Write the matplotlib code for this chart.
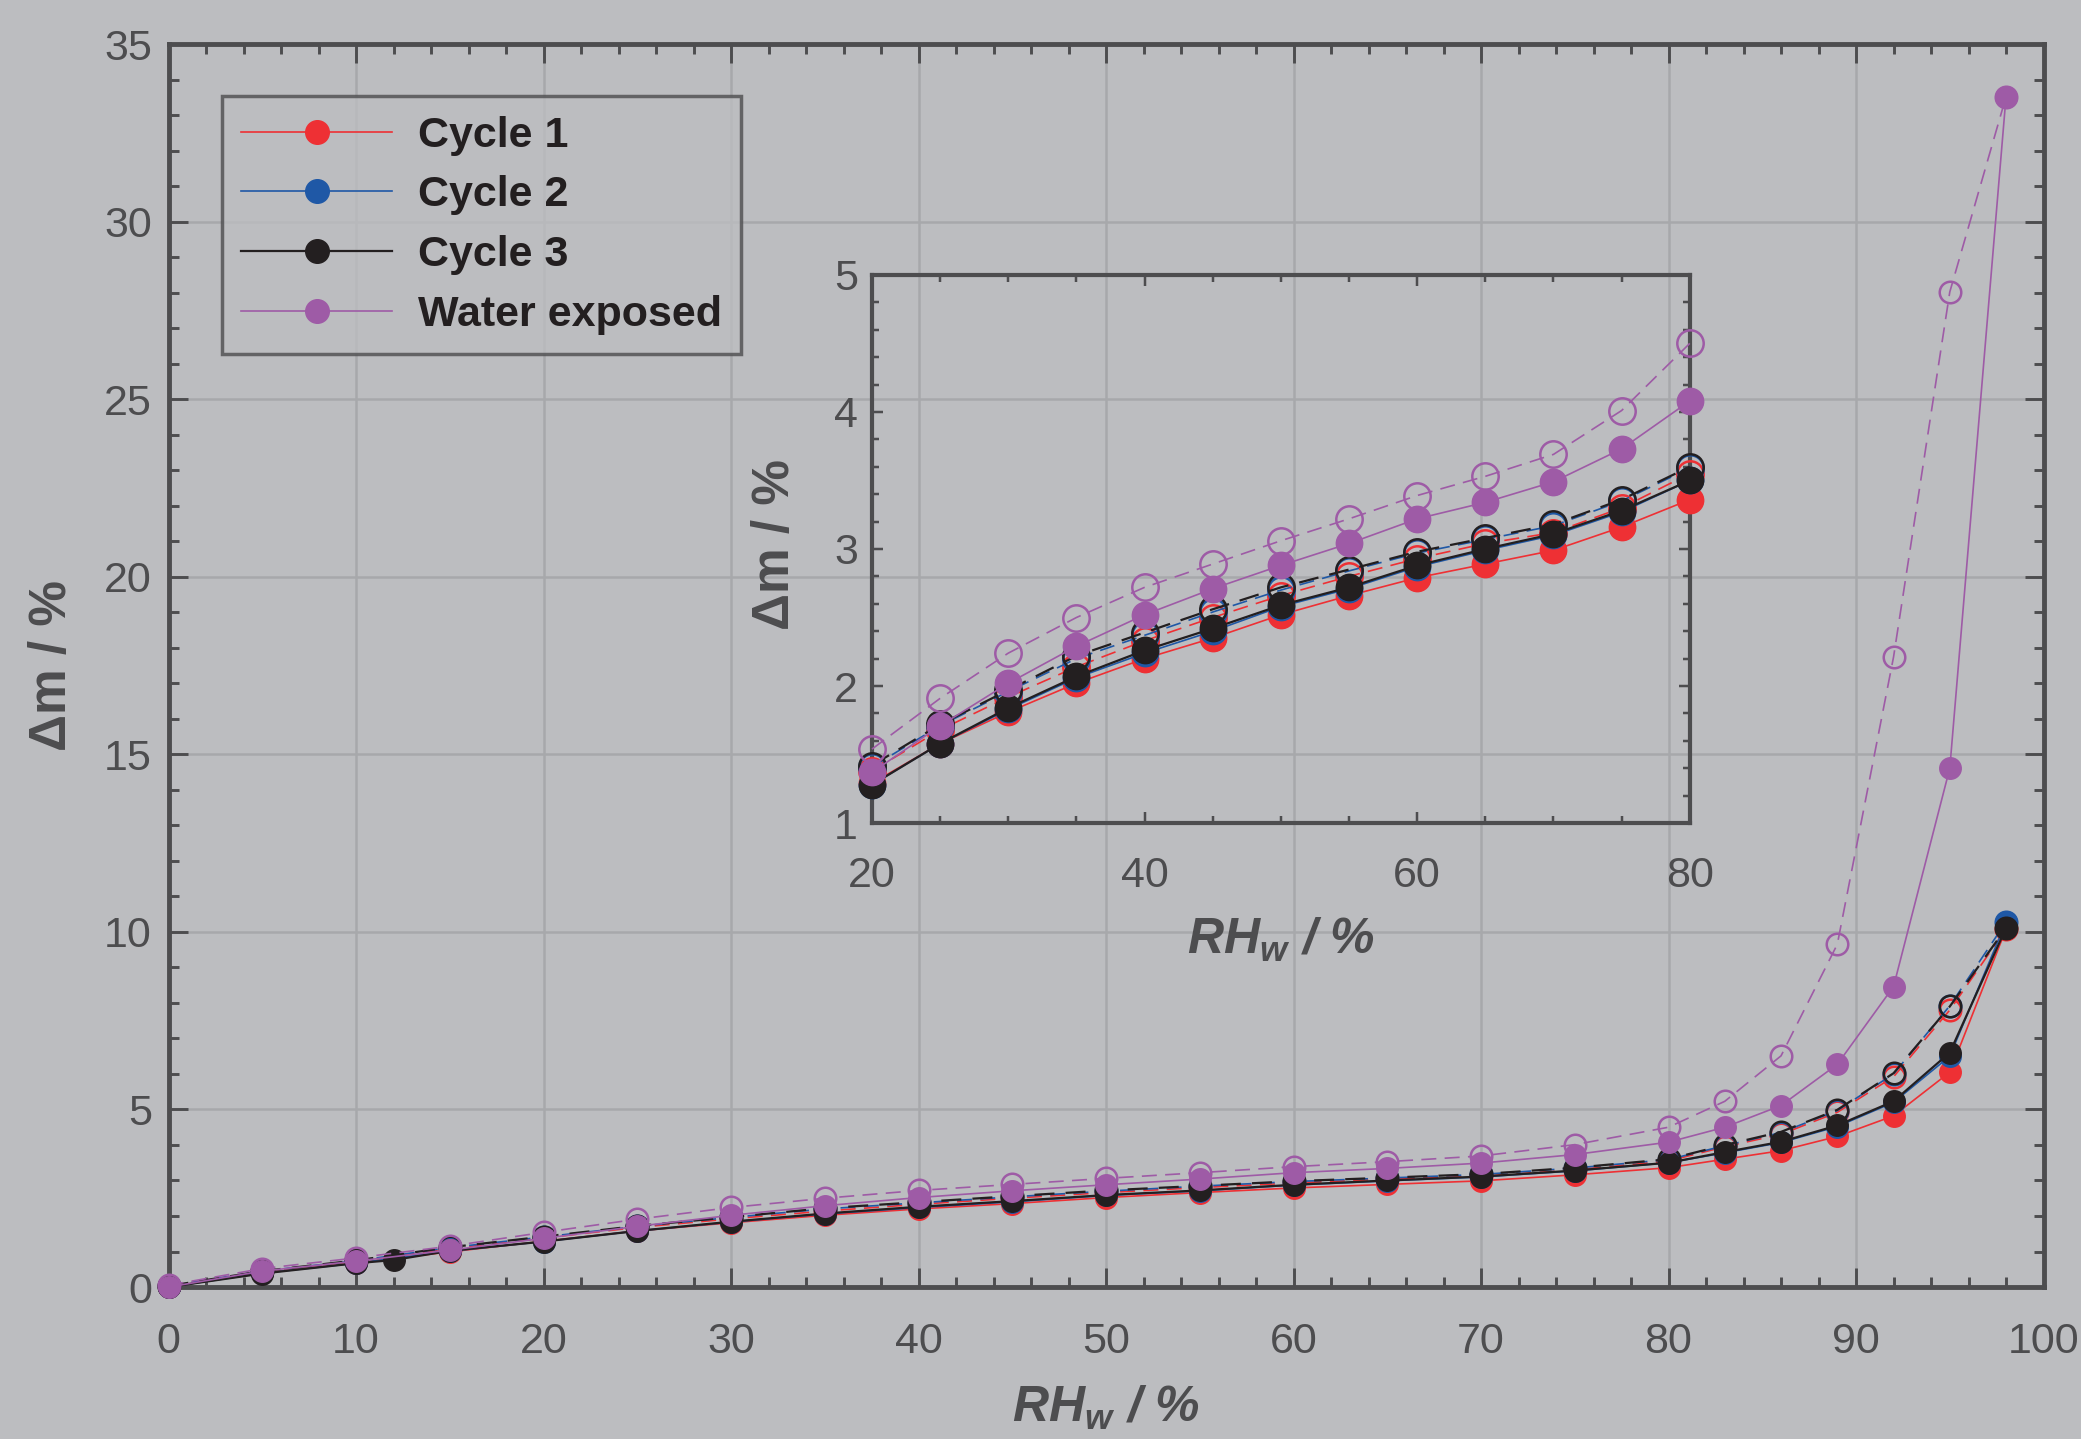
import matplotlib
matplotlib.use('Agg')
import matplotlib.pyplot as plt
from matplotlib.ticker import MultipleLocator

plt.rcParams['font.family'] = ['Liberation Sans', 'DejaVu Sans']
plt.rcParams['mathtext.fontset'] = 'custom'
plt.rcParams['mathtext.rm'] = 'Liberation Sans:italic:bold'
plt.rcParams['mathtext.it'] = 'Liberation Sans:italic:bold'
plt.rcParams['mathtext.default'] = 'rm'

# relative humidity steps
rh = [0, 5, 10, 15, 20, 25, 30, 35, 40, 45, 50, 55, 60, 65, 70, 75, 80, 83, 86, 89, 92, 95, 98]
rh_c3 = [0, 5, 10, 12, 15, 20, 25, 30, 35, 40, 45, 50, 55, 60, 65, 70, 75, 80, 83, 86, 89, 92, 95, 98]

# mass change, sorption (filled) and desorption (open)
c1_sorp = [0.0, 0.40, 0.68, 0.99, 1.29, 1.58, 1.81, 2.02, 2.20, 2.35, 2.52, 2.66, 2.79, 2.89, 2.99, 3.16, 3.36,
           3.60, 3.84, 4.24, 4.82, 6.05, 10.08]
c1_desorp = [0.02, 0.44, 0.72, 1.08, 1.38, 1.68, 1.92, 2.14, 2.33, 2.50, 2.66, 2.80, 2.93, 3.04, 3.12, 3.30, 3.55,
             3.95, 4.30, 4.92, 5.92, 7.80, 10.08]
c2_sorp = [0.0, 0.39, 0.67, 1.01, 1.28, 1.58, 1.83, 2.06, 2.24, 2.40, 2.58, 2.71, 2.87, 2.99, 3.10, 3.27, 3.50,
           3.78, 4.07, 4.52, 5.20, 6.50, 10.28]
c2_desorp = [0.03, 0.45, 0.74, 1.11, 1.41, 1.71, 1.96, 2.20, 2.37, 2.54, 2.70, 2.84, 2.97, 3.07, 3.17, 3.35, 3.59,
             3.98, 4.35, 4.97, 6.00, 7.92, 10.28]
c3_sorp = [0.0, 0.38, 0.67, 0.76, 1.02, 1.28, 1.58, 1.84, 2.07, 2.26, 2.42, 2.59, 2.72, 2.88, 3.00, 3.11, 3.28,
           3.50, 3.80, 4.09, 4.55, 5.23, 6.60, 10.11]
c3_desorp = [0.03, 0.45, 0.75, 1.12, 1.42, 1.72, 1.97, 2.22, 2.39, 2.56, 2.72, 2.85, 2.98, 3.08, 3.18, 3.36, 3.60,
             4.00, 4.37, 4.99, 6.02, 7.90, 10.11]
water_sorp = [0.0, 0.45, 0.73, 1.04, 1.37, 1.71, 2.02, 2.29, 2.52, 2.71, 2.88, 3.04, 3.22, 3.34, 3.49, 3.73, 4.08,
              4.50, 5.11, 6.27, 8.46, 14.61, 33.52]
water_desorp = [0.05, 0.52, 0.82, 1.15, 1.54, 1.91, 2.24, 2.50, 2.72, 2.89, 3.06, 3.22, 3.39, 3.53, 3.69, 4.01, 4.50,
                5.23, 6.51, 9.65, 17.74, 28.02, 33.52]

labels = ['Cycle 1', 'Cycle 2', 'Cycle 3', 'Water exposed']
colors = ['#ee3034', '#1f58a6', '#231f20', '#9e5ba6']
BG = '#bcbdc0'
SPINE = '#4d4d4f'

series = [
    (rh, c1_sorp, rh, c1_desorp),
    (rh, c2_sorp, rh, c2_desorp),
    (rh_c3, c3_sorp, rh, c3_desorp),
    (rh, water_sorp, rh, water_desorp),
]


def style_axes(ax, major_len, minor_len, width):
    for sp in ax.spines.values():
        sp.set_color(SPINE)
        sp.set_linewidth(width)
    ax.tick_params(which='both', direction='in', top=True, right=True, colors=SPINE,
                   width=width * 0.6, labelcolor=SPINE, labelsize=31)
    ax.tick_params(which='major', length=major_len)
    ax.tick_params(which='minor', length=minor_len)


fig = plt.figure(figsize=(20.81, 14.39), dpi=100, facecolor=BG)
ax = fig.add_axes([0.081, 0.1056, 0.901, 0.8638], facecolor=BG)

handles = []
for (xs, ys, xd, yd), lab, col in zip(series, labels, colors):
    lw = 1.6 if col == '#231f20' else 1.2
    h, = ax.plot(xs, ys, '-o', color=col, lw=lw, ms=15.5, mec=col, mfc=col, clip_on=False, zorder=3, label=lab)
    ax.plot(xd, yd, '--o', color=col, lw=lw, ms=15.5, mec=col, mfc='none', mew=1.8, clip_on=False,
            zorder=3, dashes=(9, 5))
    handles.append(h)

ax.set_xlim(0, 100)
ax.set_ylim(0, 35)
ax.xaxis.set_major_locator(MultipleLocator(10))
ax.xaxis.set_minor_locator(MultipleLocator(2))
ax.yaxis.set_major_locator(MultipleLocator(5))
ax.yaxis.set_minor_locator(MultipleLocator(1))
ax.grid(True, which='major', color='#a7a8ab', lw=1.8, zorder=0)
style_axes(ax, 14, 7.5, 3.5)
ax.tick_params(axis='x', pad=25)
ax.tick_params(axis='y', pad=12)

ax.set_xlabel(r'$RH_w$ / %', fontsize=36, fontweight='bold', fontstyle='italic', color=SPINE)
ax.xaxis.set_label_coords(0.5, -0.078)
ax.set_ylabel('Δm / %', fontsize=37, fontweight='bold', color=SPINE)
ax.yaxis.set_label_coords(-0.049, 0.5)

leg = ax.legend(handles=handles, loc='upper left', bbox_to_anchor=(0.0285, 0.958), borderaxespad=0,
                frameon=True, fancybox=False, handlelength=3.5, labelspacing=0.46,
                handletextpad=0.6, borderpad=0.45, prop={'weight': 'bold', 'size': 31})
leg.get_frame().set_edgecolor(SPINE)
leg.get_frame().set_linewidth(2.5)
leg.get_frame().set_facecolor(BG)
for t in leg.get_texts():
    t.set_color('#231f20')
for lh in leg.get_lines():
    lh.set_markersize(17)

# inset, 20-80 % RH
axi = fig.add_axes([0.419, 0.428, 0.393, 0.381])
axi.patch.set_alpha(0)
for (xs, ys, xd, yd), col in zip(series, colors):
    lw = 1.6 if col == '#231f20' else 1.2
    si = [i for i, v in enumerate(xs) if 20 <= v <= 80]
    di = [i for i, v in enumerate(xd) if 20 <= v <= 80]
    axi.plot([xs[i] for i in si], [ys[i] for i in si], '-o', color=col, lw=lw, ms=19, mec=col, mfc=col,
             clip_on=False, zorder=3)
    axi.plot([xd[i] for i in di], [yd[i] for i in di], '--o', color=col, lw=lw, ms=19, mec=col, mfc='none',
             mew=1.8, clip_on=False, zorder=3, dashes=(9, 5))

axi.set_xlim(20, 80)
axi.set_ylim(1, 5)
axi.xaxis.set_major_locator(MultipleLocator(20))
axi.xaxis.set_minor_locator(MultipleLocator(5))
axi.yaxis.set_major_locator(MultipleLocator(1))
axi.yaxis.set_minor_locator(MultipleLocator(0.2))
style_axes(axi, 8, 5, 3.0)
axi.tick_params(axis='x', pad=24)
axi.tick_params(axis='y', pad=10)
axi.set_xlabel(r'$RH_w$ / %', fontsize=36, fontweight='bold', fontstyle='italic', color=SPINE)
axi.xaxis.set_label_coords(0.5, -0.17)
axi.set_ylabel('Δm / %', fontsize=37, fontweight='bold', color=SPINE)
axi.yaxis.set_label_coords(-0.088, 0.509)

fig.savefig('out.png', dpi=100, facecolor=BG)
